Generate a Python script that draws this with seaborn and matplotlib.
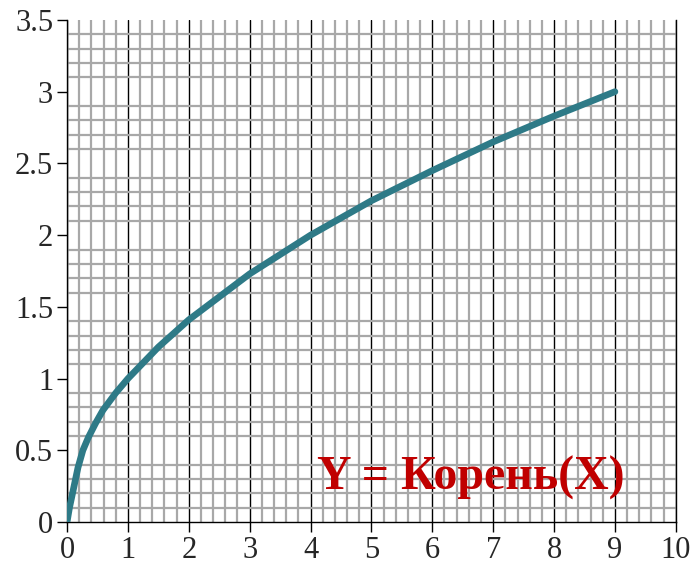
import numpy as np
import pandas as pd
import matplotlib
matplotlib.use("Agg")
import matplotlib.pyplot as plt
import seaborn as sns
from matplotlib.ticker import MultipleLocator

# значения
x_vals = [0, 0.04, 0.09, 0.18, 0.26, 0.35, 0.47, 0.59, 0.8, 1, 1.5, 2, 3, 4, 5, 6, 7, 8, 9]
y_vals = [0, 0.1, 0.2, 0.38, 0.5, 0.59, 0.69, 0.78, 0.9, 1.0, 1.22, 1.41, 1.73, 2.0, 2.24, 2.45, 2.65, 2.83, 3.0]
x_ticks = [0, 1, 2, 3, 4, 5, 6, 7, 8, 9, 10]
y_ticks = [0, 0.5, 1, 1.5, 2, 2.5, 3, 3.5]
y_labels = ['0', '0.5', '1', '1.5', '2', '2.5', '3', '3.5']

df = pd.DataFrame({'x': x_vals, 'y': y_vals})

sns.set_style("white")
plt.rcParams['font.family'] = ['Liberation Serif', 'DejaVu Serif']

fig = plt.figure(figsize=(6.91, 5.70), dpi=100)
ax = fig.add_axes([0.097, 0.084, 0.881, 0.881])

sns.lineplot(data=df, x='x', y='y', color='#2E7A87', linewidth=4.8, ax=ax, zorder=5)

ax.set_xlim(0, 10)
ax.set_ylim(0, 3.5)
ax.set_xticks(x_ticks)
ax.set_yticks(y_ticks)
ax.set_yticklabels(y_labels)
ax.xaxis.set_minor_locator(MultipleLocator(0.2))
ax.yaxis.set_minor_locator(MultipleLocator(0.1))

ax.grid(which='minor', color='#A8A8A8', linewidth=1.6)
ax.grid(which='major', axis='x', color='black', linewidth=1.0)
ax.grid(which='major', axis='y', visible=False)
ax.set_axisbelow(True)

ax.tick_params(which='major', direction='out', length=7, width=1, color='black',
               labelsize=22, pad=3, left=True, bottom=True)
ax.tick_params(which='minor', length=0)

ax.spines['top'].set_visible(False)
for s in ['left', 'bottom', 'right']:
    ax.spines[s].set_color('black')
    ax.spines[s].set_linewidth(1.0)

ax.set_xlabel('')
ax.set_ylabel('')

ax.text(6.63, 0.31, 'Y = Корень(X)', color='#C00000', fontsize=34.5, fontweight='bold',
        ha='center', va='center', zorder=6)

fig.savefig('out.png', dpi=100)
